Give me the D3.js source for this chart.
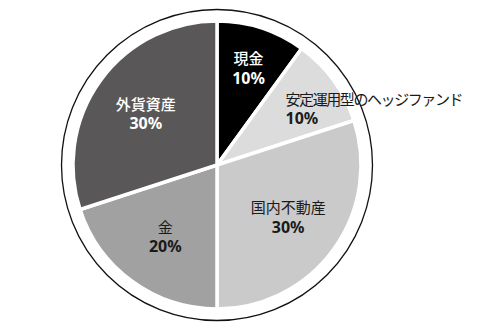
<!DOCTYPE html>
<html>
<head>
<meta charset="utf-8">
<script src="https://cdn.jsdelivr.net/npm/d3@7"></script>
<style>
    body { margin: 0; background: #fff; }
    svg { display: block; }
    text { font-family: "Noto Sans", "Noto Sans CJK JP", sans-serif; }
</style>
</head>
<body>
<div id="chart"></div>
<script>
// データ
const labels = ['現金', '安定運用型のヘッジファンド', '国内不動産', '金', '外貨資産'];
const values = [10, 10, 30, 20, 30];
const colors = ['#000000', '#dcdcdc', '#cacaca', '#a1a1a1', '#5a5758'];
const textColors = ['#ffffff', '#1a1a1a', '#1a1a1a', '#1a1a1a', '#ffffff'];

const width = 500, height = 335;
const cx = 217, cy = 165;
const radius = 144;

const svg = d3.select('#chart')
    .append('svg')
    .attr('width', width)
    .attr('height', height);

const g = svg.append('g')
    .attr('transform', `translate(${cx},${cy})`);

// 外側の細い円
g.append('circle')
    .attr('r', 155.5)
    .attr('fill', 'none')
    .attr('stroke', '#111')
    .attr('stroke-width', 1.3);

const data = labels.map((name, i) => ({ name, value: values[i], i }));

const pie = d3.pie()
    .value(d => d.value)
    .sort(null);

const arcs = pie(data);

const arc = d3.arc()
    .innerRadius(0)
    .outerRadius(radius);

// 扇形
g.selectAll('.slice')
    .data(arcs)
    .enter()
    .append('path')
    .attr('class', 'slice')
    .attr('d', arc)
    .attr('fill', d => colors[d.data.i])
    .attr('stroke', '#fff')
    .attr('stroke-width', 3.5)
    .attr('stroke-linejoin', 'round');

// ラベル位置（小さい扇形は外寄り）
function labelPos(d) {
    const r = d.data.value <= 10 ? 102 : 88;
    const a = (d.startAngle + d.endAngle) / 2;
    return [Math.sin(a) * r, -Math.cos(a) * r];
}

const labelG = g.selectAll('.label')
    .data(arcs)
    .enter()
    .append('g')
    .attr('class', 'label')
    .attr('transform', d => {
        const [x, y] = labelPos(d);
        // ヘッジファンドは左揃え
        return d.data.i === 1 ? `translate(${x - 14},${y + 3})` : `translate(${x},${y})`;
    });

labelG.append('text')
    .attr('y', -9.5)
    .attr('dominant-baseline', 'central')
    .attr('text-anchor', d => d.data.i === 1 ? 'start' : 'middle')
    .attr('fill', d => textColors[d.data.i])
    .style('font-size', '15px')
    .style('font-weight', d => textColors[d.data.i] === '#ffffff' ? 500 : 400)
    .attr('textLength', d => d.data.i === 1 ? 178 : null)
    .attr('lengthAdjust', 'spacing')
    .text(d => d.data.name);

labelG.append('text')
    .attr('y', 10)
    .attr('dominant-baseline', 'central')
    .attr('text-anchor', d => d.data.i === 1 ? 'start' : 'middle')
    .attr('fill', d => textColors[d.data.i])
    .style('font-size', '16px')
    .style('font-weight', 700)
    .text(d => d.data.value + '%');
</script>
</body>
</html>
